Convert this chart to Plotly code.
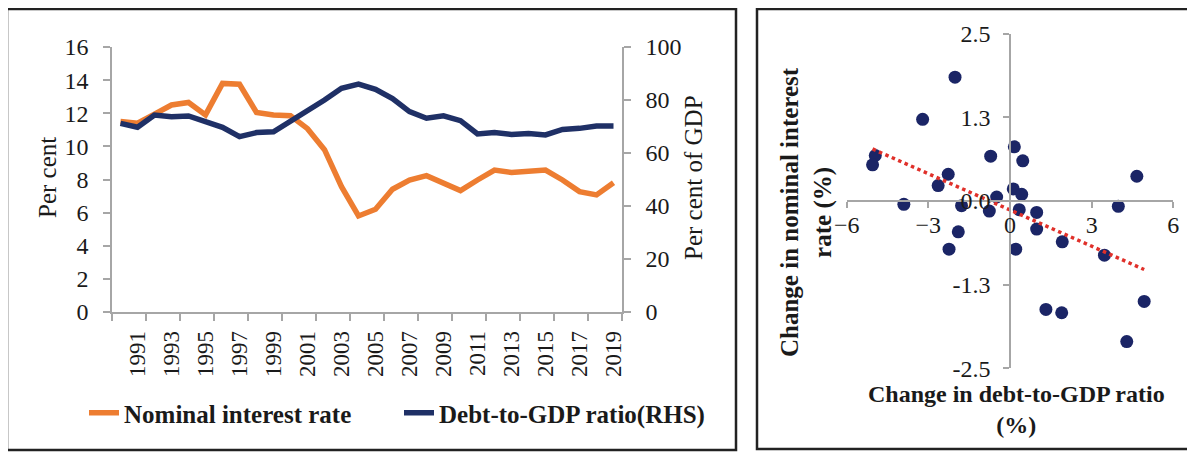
import numpy as np
import plotly.graph_objects as go

# ---------------- data ----------------
years = list(range(1990, 2020))
nominal_rate = [11.5, 11.4, 11.95, 12.5, 12.65, 11.9, 13.8, 13.75, 12.05, 11.9,
                11.85, 11.07, 9.8, 7.57, 5.8, 6.2, 7.41, 7.97, 8.23, 7.77,
                7.33, 7.97, 8.57, 8.43, 8.5, 8.57, 7.97, 7.27, 7.07, 7.81]
debt_ratio = [71.2, 69.7, 74.3, 73.7, 74.0, 71.8, 69.7, 66.2, 67.7, 68.0,
              71.8, 75.6, 80.0, 84.4, 86.0, 84.0, 80.5, 75.6, 73.1, 74.0,
              72.2, 67.2, 67.7, 67.0, 67.4, 66.8, 68.9, 69.3, 70.2, 70.2]
year_ticks = list(range(1991, 2020, 2))

debt_change = [-2.02, -3.21, 0.16, -0.71, 0.47, -4.95, -5.05, -2.27, 4.66, -2.64,
               0.12, 0.43, -0.49, -3.90, -1.78, -0.76, 0.34, 0.98, 3.98, -1.90,
               -2.24, 0.21, 0.98, 1.92, 3.47, 1.32, 1.90, 4.93, 4.29]
rate_change = [1.85, 1.22, 0.81, 0.67, 0.60, 0.68, 0.54, 0.40, 0.37, 0.23,
               0.18, 0.10, 0.06, -0.05, -0.07, -0.15, -0.13, -0.17, -0.08, -0.46,
               -0.72, -0.72, -0.42, -0.61, -0.81, -1.62, -1.67, -1.50, -2.10]
sc_yticks = [-2.5, -1.25, 0, 1.25, 2.5]
sc_yticktext = ["-2.5", "-1.3", "0.0", "1.3", "2.5"]
sc_xticks = [-6, -3, 0, 3, 6]

# linear trend
slope, intercept = np.polyfit(debt_change, rate_change, 1)
trend_x = np.array([min(debt_change), max(debt_change)])
trend_y = slope * trend_x + intercept

W, H = 1195, 452
OFF = 8  # page body margin
def px(x): return (x - OFF) / W
def py(y): return 1 - (y - OFF) / H

FONT = "Liberation Serif"
ORANGE = "#ED7D31"
NAVY = "#1F3066"
AXC = "#A6A6A6"
TXT = "#1a1a1a"

fig = go.Figure()
fig.add_trace(go.Scatter(x=years, y=nominal_rate, mode="lines", name="<b>Nominal interest rate</b>",
                         line=dict(color=ORANGE, width=5.5), xaxis="x", yaxis="y"))
fig.add_trace(go.Scatter(x=years, y=debt_ratio, mode="lines", name="<b>Debt-to-GDP ratio(RHS)</b>",
                         line=dict(color=NAVY, width=5.5), xaxis="x", yaxis="y2"))
fig.add_trace(go.Scatter(x=debt_change, y=rate_change, mode="markers", showlegend=False,
                         marker=dict(color="#1B2566", size=13), xaxis="x3", yaxis="y3"))
fig.add_trace(go.Scatter(x=trend_x, y=trend_y, mode="lines", showlegend=False,
                         line=dict(color="#E0302A", width=3.5, dash="dot"), xaxis="x3", yaxis="y3"))

tickfont = dict(family=FONT, size=24, color=TXT)
common = dict(showline=True, linecolor=AXC, linewidth=1.5, showgrid=False, zeroline=False,
              automargin=False)

def ann(text, x, y, size, angle=0):
    return dict(text=text, x=px(x), y=py(y), xref="paper", yref="paper", showarrow=False,
                xanchor="center", yanchor="middle", textangle=angle,
                font=dict(family=FONT, size=size, color=TXT))

fig.update_layout(
    template="none",
    width=W, height=H,
    margin=dict(l=0, r=0, t=0, b=0, pad=0),
    paper_bgcolor="white", plot_bgcolor="rgba(0,0,0,0)",
    font=dict(family=FONT, color=TXT),
    showlegend=True,
    legend=dict(orientation="h", x=px(84), y=py(413), xanchor="left", yanchor="middle",
                font=dict(family=FONT, size=25, color=TXT), bgcolor="rgba(0,0,0,0)",
                entrywidth=270, entrywidthmode="pixels"),
    xaxis=dict(domain=[px(112), px(622)], range=[1989.5, 2019.5], anchor="y",
               tickmode="array", tickvals=year_ticks, ticks="", tickangle=-90,
               tickfont=dict(family=FONT, size=23, color=TXT), ticklabelstandoff=8,
               minor=dict(ticks="outside", tick0=1989.5, dtick=2, ticklen=7, tickcolor=AXC, tickwidth=1.5),
               **common),
    yaxis=dict(domain=[py(312), py(47)], range=[0, 16], dtick=2, anchor="x",
               ticks="outside", ticklen=7, tickcolor=AXC, tickwidth=1.5,
               tickfont=tickfont, ticklabelstandoff=10, **common),
    yaxis2=dict(domain=[py(312), py(47)], range=[0, 100], dtick=20, anchor="x", overlaying="y", side="right",
                ticks="outside", ticklen=7, tickcolor=AXC, tickwidth=1.5,
                tickfont=tickfont, ticklabelstandoff=10, **common),
    xaxis3=dict(domain=[px(846.7), px(1173.3)], range=[-6, 6], anchor="free", position=py(201),
                tickmode="array", tickvals=sc_xticks, ticks="outside", ticklen=6, tickcolor=AXC, tickwidth=1.5,
                tickfont=tickfont, ticklabelstandoff=-4, **common),
    yaxis3=dict(domain=[py(368.3), py(33.7)], range=[-2.5, 2.5], anchor="free", position=px(1010),
                tickmode="array", tickvals=sc_yticks, ticktext=sc_yticktext,
                ticks="outside", ticklen=6, tickcolor=AXC, tickwidth=1.5,
                tickfont=tickfont, ticklabelstandoff=8, **common),
    shapes=[
        dict(type="rect", xref="paper", yref="paper", x0=px(7), x1=px(736), y0=py(450), y1=py(9),
             line=dict(color="#222222", width=2.5), fillcolor="rgba(0,0,0,0)", layer="below"),
        dict(type="rect", xref="paper", yref="paper", x0=px(757), x1=px(1215), y0=py(449), y1=py(9),
             line=dict(color="#222222", width=2.5), fillcolor="rgba(0,0,0,0)", layer="below"),
    ],
    annotations=[
        ann("Per cent", 47, 178, 25, -90),
        ann("Per cent of GDP", 693, 178, 25, -90),
        ann("<b>Change in nominal interest<br>rate (%)</b>", 806, 212, 25, -90),
        ann("<b>Change in debt-to-GDP ratio<br>(%)</b>", 1016, 409, 24),
    ],
)

fig.write_html("out.html")
